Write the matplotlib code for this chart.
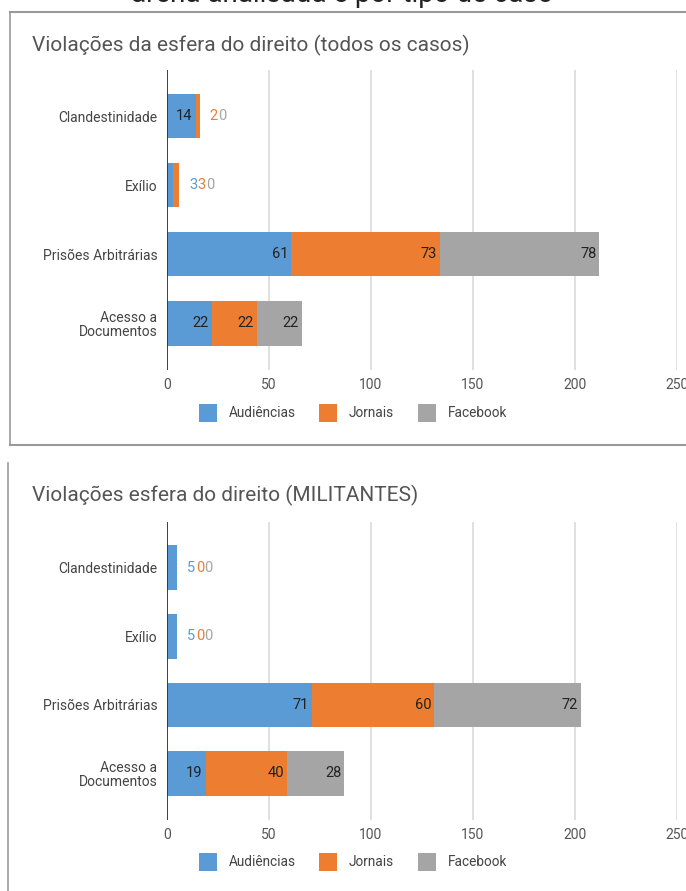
import matplotlib
matplotlib.use("Agg")
import matplotlib.pyplot as plt
from matplotlib.patches import Rectangle
from matplotlib.lines import Line2D

plt.rcParams['font.family'] = ['Roboto', 'DejaVu Sans']

# ---- data ----
categories = ["Clandestinidade", "Exílio", "Prisões Arbitrárias", "Acesso a\nDocumentos"]
series_names = ["Audiências", "Jornais", "Facebook"]
colors = ["#5B9BD5", "#ED7D31", "#A5A5A5"]

todos_audiencias = [14, 3, 61, 22]
todos_jornais = [2, 3, 73, 22]
todos_facebook = [0, 0, 78, 22]

mil_audiencias = [5, 5, 71, 19]
mil_jornais = [0, 0, 60, 40]
mil_facebook = [0, 0, 72, 28]

x_ticks = [0, 50, 100, 150, 200, 250]

title_top = "Violações da esfera do direito (todos os casos)"
title_bottom = "Violações esfera do direito (MILITANTES)"
header = "arena analisada e por tipo de caso"

W, H = 686, 891
fig = plt.figure(figsize=(W / 100, H / 100), dpi=100)
fig.patch.set_facecolor("white")


def fx(x):
    return x / W


def fy(y):
    return 1 - y / H


def add_axes_px(left, top, right, bottom):
    return fig.add_axes([fx(left), fy(bottom), (right - left) / W, (bottom - top) / H])


PX_PER_UNIT = 510 / 250.0
DIGIT_PX = 8.6


def draw_panel(ax, values):
    n = len(categories)
    ypos = list(range(n))
    bar_h = 0.65
    lefts = [0] * n
    for si, vals in enumerate(values):
        ax.barh(ypos, vals, left=lefts, height=bar_h, color=colors[si],
                edgecolor="none", zorder=3)
        lefts = [l + v for l, v in zip(lefts, vals)]

    # value labels: inside the segment when it fits, otherwise after the bar
    for ci in range(n):
        start = 0
        outside = []
        for si, vals in enumerate(values):
            v = vals[ci]
            seg_px = v * PX_PER_UNIT
            txt = str(v)
            need = DIGIT_PX * len(txt) + 5
            if seg_px >= need:
                ax.annotate(txt, xy=(start + v, ci), xytext=(-3, 0),
                            textcoords="offset pixels", ha="right", va="center",
                            fontsize=10.5, color="#222222", zorder=5)
            else:
                outside.append((txt, colors[si]))
            start += v
        off = 10
        for txt, col in outside:
            ax.annotate(txt, xy=(start, ci), xytext=(off, 0),
                        textcoords="offset pixels", ha="left", va="center",
                        fontsize=10.5, color=col, zorder=5)
            off += DIGIT_PX * len(txt)

    ax.set_xlim(0, 250)
    ax.set_ylim(3.68, -0.667)
    ax.set_xticks(x_ticks)
    ax.set_xticklabels([str(t) for t in x_ticks])
    ax.set_yticks(ypos)
    ax.set_yticklabels(categories, fontsize=10, color="#444444", linespacing=1.0)
    ax.tick_params(axis="y", length=0, pad=7)
    ax.tick_params(axis="x", length=0, pad=6, labelsize=10, labelcolor="#555555")
    ax.grid(axis="x", color="#DDDDDD", linewidth=1.3, zorder=0)
    for s in ax.spines.values():
        s.set_visible(False)
    ax.axvline(0, color="#333333", linewidth=1.3, zorder=4)


def draw_legend(y_center):
    xs = [199, 319, 418]
    for i, name in enumerate(series_names):
        fig.add_artist(Rectangle((fx(xs[i]), fy(y_center + 9)), 18 / W, 18 / H,
                                 facecolor=colors[i], edgecolor="none",
                                 transform=fig.transFigure))
        fig.text(fx(xs[i] + 30), fy(y_center), name, fontsize=9.8, color="#444444",
                 ha="left", va="center")


# header running off the top edge
fig.text(fx(342), fy(-5), header, fontsize=20, color="#222222", ha="center", va="center")

# frame around top panel
fig.add_artist(Line2D([fx(10), fx(700)], [fy(12), fy(12)], color="#999999", lw=1.5,
                      transform=fig.transFigure))
fig.add_artist(Line2D([fx(10), fx(700)], [fy(445), fy(445)], color="#999999", lw=1.5,
                      transform=fig.transFigure))
fig.add_artist(Line2D([fx(10), fx(10)], [fy(12), fy(445)], color="#999999", lw=1.2,
                      transform=fig.transFigure))
# left edge of bottom panel
fig.add_artist(Line2D([fx(8), fx(8)], [fy(463), fy(891)], color="#999999", lw=1.2,
                      transform=fig.transFigure))

# top panel
fig.text(fx(32), fy(45), title_top, fontsize=15, color="#555555", ha="left", va="center")
ax1 = add_axes_px(167, 70, 677, 370)
draw_panel(ax1, [todos_audiencias, todos_jornais, todos_facebook])
draw_legend(413)

# bottom panel
fig.text(fx(32), fy(495), title_bottom, fontsize=15, color="#555555", ha="left", va="center")
ax2 = add_axes_px(167, 522, 677, 820)
draw_panel(ax2, [mil_audiencias, mil_jornais, mil_facebook])
draw_legend(862)

fig.savefig("out.png", dpi=100, facecolor="white")
